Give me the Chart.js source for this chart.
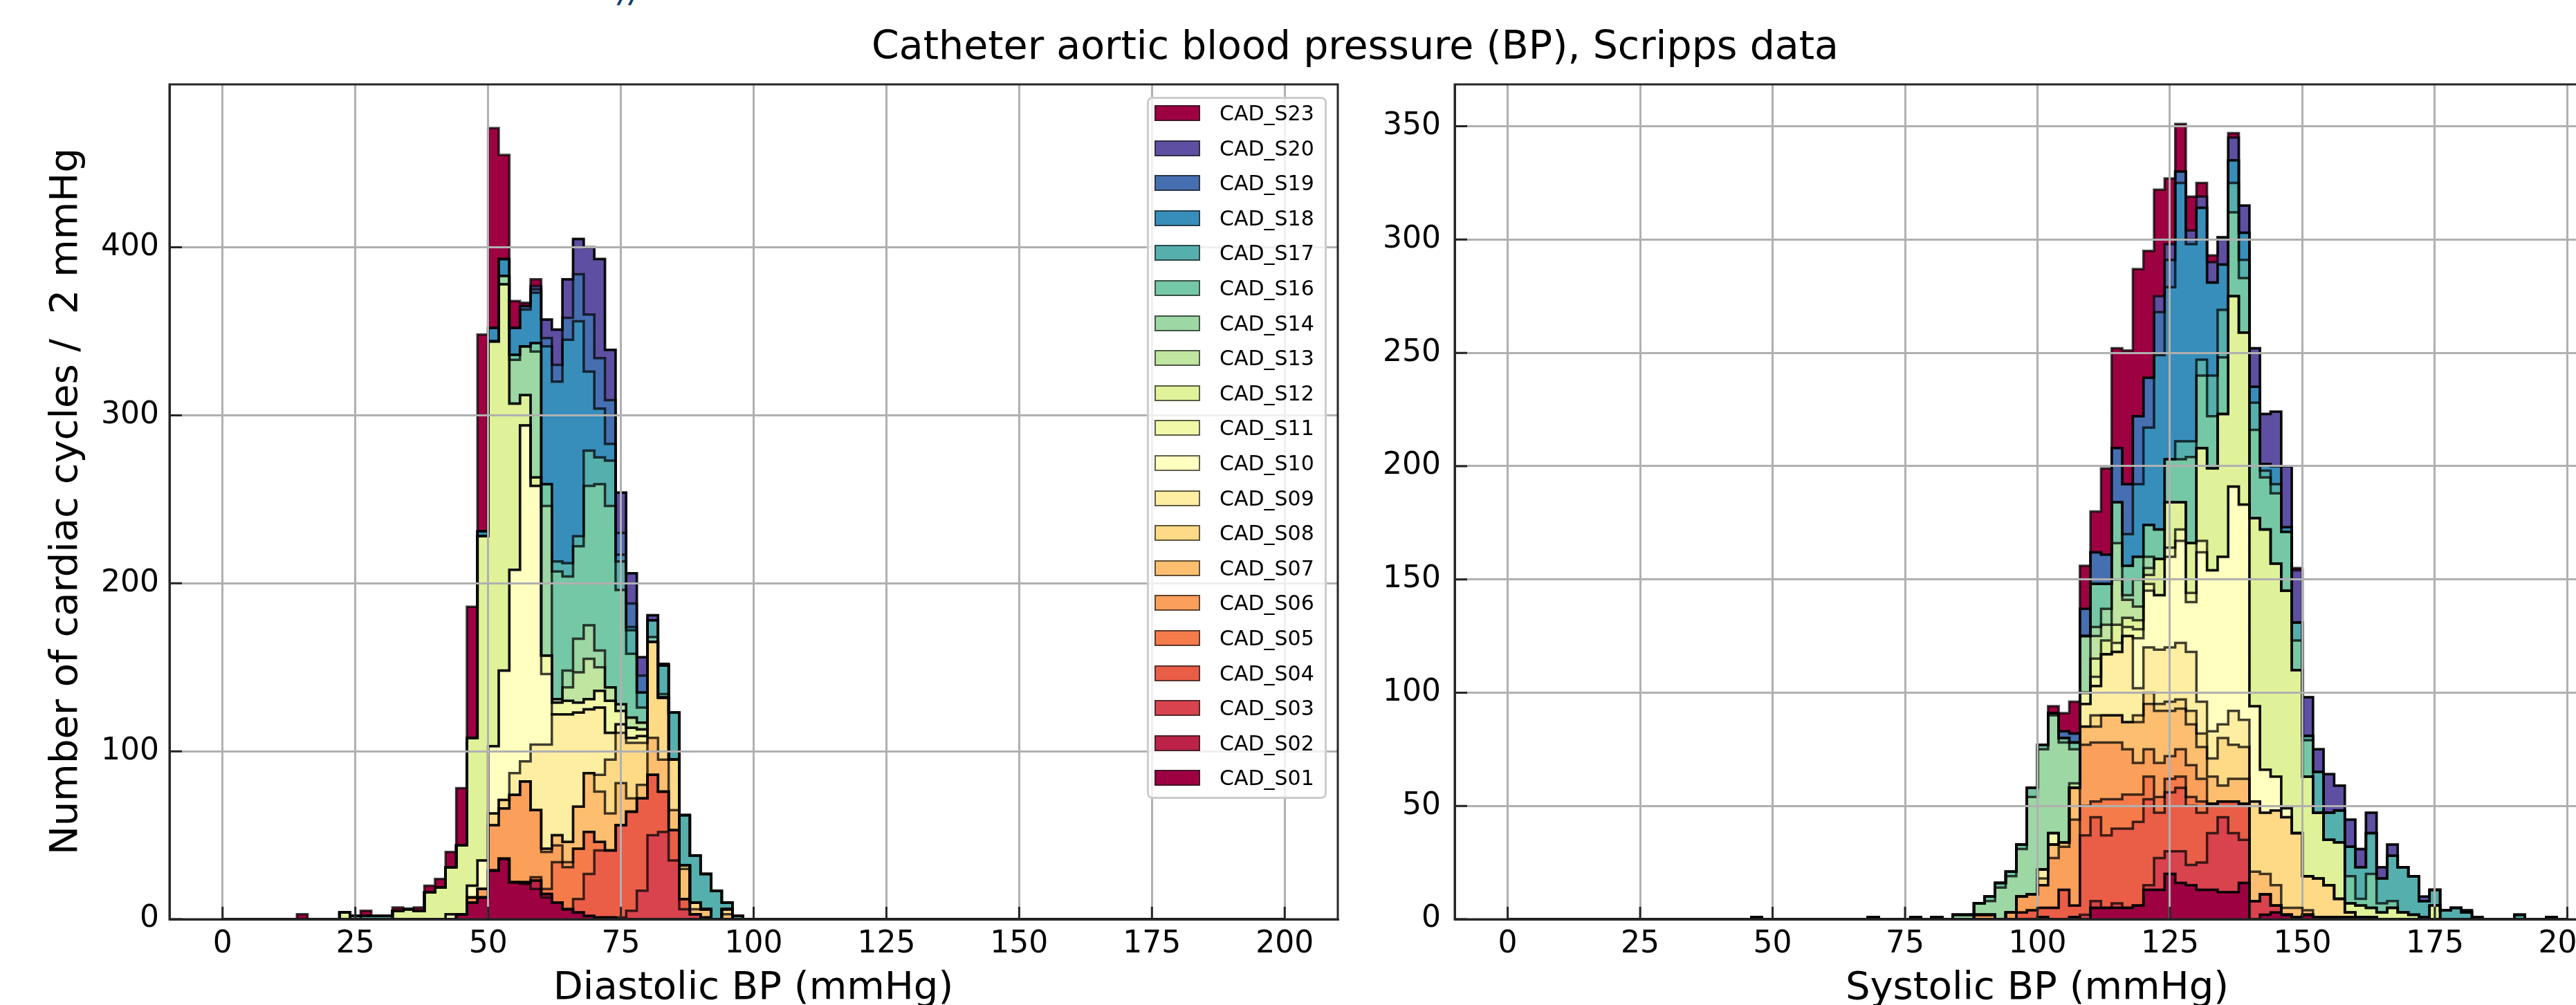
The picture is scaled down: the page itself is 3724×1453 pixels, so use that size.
<!DOCTYPE html>
<html>
<head>
<meta charset="utf-8">
<script src="https://cdn.jsdelivr.net/npm/chart.js"></script>
<style>
    html, body {
        margin: 0;
        padding: 0;
        background: #fff;
        width: 3724px;
        height: 1453px;
        overflow: hidden;
        position: relative;
        font-family: "DejaVu Sans", sans-serif;
    }
    canvas { position: absolute; top: 0; }
    #DiaChart { left: 0; }
    #SysChart { left: 1960px; }
    .txt { position: absolute; white-space: pre; line-height: 1; color: #000; }
    #legendBox {
        position: absolute; left: 1658px; top: 140px; width: 260px; height: 1015px;
        box-sizing: border-box; border: 3px solid #cccccc; border-radius: 8px;
        background: rgba(255, 255, 255, 0.8);
    }
    .lgHandle { position: absolute; left: 8px; width: 66px; height: 23px; box-sizing: border-box; border: 2px solid rgba(30, 30, 30, 0.7); }
    .lgText { position: absolute; left: 102px; font-size: 30px; line-height: 1; white-space: pre; color: #000; }
</style>
</head>
<body>

<div class="txt" style="left:895px;top:-38px;font-size:48px;color:#0d3c6e;font-style:italic">//</div>
<div class="txt" style="left:1959px;top:37px;font-size:57px;transform:translateX(-50%)">Catheter aortic blood pressure (BP), Scripps data</div>
<div class="txt" style="left:92px;top:725px;font-size:56px;transform:translate(-50%,-50%) rotate(-90deg)">Number of cardiac cycles /  2 mmHg</div>
<div class="txt" style="left:1089px;top:1397px;font-size:56px;transform:translateX(-50%)">Diastolic BP (mmHg)</div>
<div class="txt" style="left:2945px;top:1397px;font-size:56px;transform:translateX(-50%)">Systolic BP (mmHg)</div>

<canvas id="DiaChart" width="1960" height="1453"></canvas>
<canvas id="SysChart" width="1854" height="1453"></canvas>
<div id="legendBox"></div>

<script>
// subjects, bottom of the stack first
const seriesNames = ['CAD_S01', 'CAD_S02', 'CAD_S03', 'CAD_S04', 'CAD_S05', 'CAD_S06', 'CAD_S07',
    'CAD_S08', 'CAD_S09', 'CAD_S10', 'CAD_S11', 'CAD_S12', 'CAD_S13', 'CAD_S14', 'CAD_S16',
    'CAD_S17', 'CAD_S18', 'CAD_S19', 'CAD_S20', 'CAD_S23'];

const xTicks = [0, 25, 50, 75, 100, 125, 150, 175, 200];
const diaYTicks = [0, 100, 200, 300, 400];
const sysYTicks = [0, 50, 100, 150, 200, 250, 300, 350];

// diastolic counts: [bin left edge (mmHg), cycles in the 2 mmHg bin]
const diaS01 = [[44,3],[46,10],[48,13],[50,29],[52,36],[54,22],[56,21],[58,18],[60,13],[62,10],[64,6],[66,4],[68,2],[70,1],[72,1]];
const diaS02 = [[56,1],[58,5],[60,2]];
const diaS03 = [[74,1],[76,5],[78,17],[80,50],[82,52],[84,35],[86,6],[88,3]];
const diaS04 = [[66,8],[68,25],[70,40],[72,40],[74,55],[76,59],[78,55],[80,36],[82,24],[84,18],[86,6],[90,1]];
const diaS05 = [[58,2],[60,3],[62,24],[64,25],[66,30],[68,25],[70,5]];
const diaS06 = [[46,3],[48,5],[50,27],[52,30],[54,52],[56,60],[58,40],[60,22],[62,10],[64,3]];
const diaS07 = [[60,2],[62,6],[64,12],[66,25],[68,35],[70,30],[72,22],[74,25],[76,8],[78,8],[80,22],[82,19],[84,12],[86,18],[88,3],[90,5],[94,3]];
const diaS08 = [[50,7],[52,5],[70,10],[72,32],[74,30],[76,33],[78,25],[80,57],[82,37],[84,30],[86,2],[88,4],[94,3]];
const diaS09 = [[54,13],[56,12],[58,39],[60,62],[62,72],[64,76],[66,56],[68,38],[70,40],[72,16],[74,5],[76,3],[78,4]];
const diaS10 = [[42,3],[46,7],[48,17],[50,40],[52,77],[54,121],[56,200],[58,154],[60,42]];
const diaS11 = [[60,11],[62,7],[64,8],[66,6],[68,6],[70,10],[72,19],[74,8],[76,6],[78,4]];
const diaS12 = [[22,4],[32,5],[34,6],[36,5],[38,16],[40,19],[42,28],[44,41],[46,88],[48,193],[50,241],[52,230],[54,99],[56,18],[58,5]];
const diaS13 = [[62,2],[64,8],[66,18],[68,24],[70,14],[72,8],[74,4],[76,6],[78,4]];
const diaS14 = [[52,5],[54,26],[56,29],[58,75],[60,89],[64,10],[66,20],[68,20],[70,10]];
const diaS16 = [[24,2],[54,3],[58,5],[60,13],[62,76],[64,56],[66,55],[68,83],[70,99],[72,108],[74,68],[76,38],[78,9],[80,3],[82,2]];
const diaS17 = [[26,2],[28,2],[30,2],[62,6],[64,8],[66,6],[68,21],[70,16],[72,27],[74,17],[76,14],[78,9],[80,10],[82,17],[84,28],[86,30],[88,28],[90,21],[92,17],[94,4],[96,2]];
const diaS18 = [[48,3],[50,8],[52,10],[54,16],[56,22],[58,30],[60,82],[62,107],[64,133],[66,128],[68,47],[70,29],[72,10],[74,4],[76,2]];
const diaS19 = [[56,2],[58,2],[60,5],[62,10],[64,13],[66,28],[68,34],[70,30],[72,26],[74,13],[76,14],[78,10]];
const diaS20 = [[58,2],[60,11],[62,21],[64,23],[66,21],[68,40],[70,59],[72,30],[74,24],[76,18],[78,11],[80,3],[82,1]];
const diaS23 = [[14,3],[26,3],[32,2],[36,2],[38,4],[40,5],[42,9],[44,34],[46,78],[48,117],[50,119],[52,62],[54,16],[56,2],[58,4]];

// systolic counts
const sysS01 = [[68,1],[80,1],[100,1],[106,1],[110,5],[112,5],[114,5],[116,5],[118,6],[120,13],[122,13],[124,20],[126,16],[128,15],[130,13],[132,13],[134,12],[136,12],[138,16],[142,2],[144,3],[146,2],[148,1],[150,2],[152,1],[154,1],[156,1],[158,1],[160,1],[162,1]];
const sysS02 = [];
const sysS03 = [[108,2],[110,3],[114,2],[120,2],[122,14],[124,10],[126,14],[128,9],[130,12],[132,25],[134,33],[136,26],[138,19],[140,8],[142,9],[144,3]];
const sysS04 = [[96,3],[98,4],[100,4],[102,5],[104,13],[106,5],[108,35],[110,37],[112,32],[114,33],[116,35],[118,37],[120,38],[122,20],[124,26],[126,28],[128,26],[130,22],[132,13],[134,7],[136,14],[138,16]];
const sysS05 = [[108,13],[110,7],[112,16],[114,13],[116,15],[118,12],[120,10],[122,7],[124,6],[126,5],[128,4],[130,5]];
const sysS06 = [[88,2],[90,2],[94,3],[96,7],[98,7],[100,10],[102,22],[104,19],[106,38],[108,27],[110,26],[112,25],[114,25],[116,20],[118,14],[120,12],[122,15],[124,10],[126,12],[128,14],[130,10]];
const sysS07 = [[102,6],[104,2],[106,14],[108,8],[110,7],[112,12],[114,12],[116,12],[118,18],[120,20],[122,23],[124,20],[126,18],[128,18],[130,14],[132,12],[134,7],[136,10],[138,11],[140,13],[142,9],[144,9],[146,3],[148,4],[150,2]];
const sysS08 = [[100,3],[110,5],[118,3],[120,5],[122,3],[124,4],[126,4],[128,6],[130,6],[132,8],[134,21],[136,15],[138,14],[140,31],[142,27],[144,33],[146,40],[148,33],[150,15],[152,17],[154,14],[156,8],[158,2]];
const sysS09 = [[100,4],[108,10],[110,13],[112,27],[114,28],[116,38],[118,12],[120,20],[122,24],[124,24],[126,25],[128,26],[130,14],[132,12],[134,6],[136,15],[138,12]];
const sysS10 = [[118,22],[120,25],[122,24],[124,40],[126,45],[128,22],[130,66],[132,71],[134,74],[136,99],[138,95],[140,42],[142,19],[144,15],[146,4]];
const sysS11 = [[102,5],[108,5],[110,4],[114,4],[116,4],[118,4],[120,3],[124,4],[126,5],[128,4],[130,5]];
const sysS12 = [[110,8],[112,6],[114,8],[116,4],[118,4],[120,4],[122,16],[124,20],[126,12],[128,22],[130,41],[132,45],[134,63],[136,84],[138,76],[140,83],[142,106],[144,94],[146,96],[148,72],[150,44],[152,29],[154,20],[156,25],[158,4],[160,5],[162,4],[164,3],[166,5],[168,3],[170,2],[172,1],[174,6]];
const sysS13 = [[106,2],[110,10],[112,7],[114,20],[116,8],[118,6],[120,3]];
const sysS14 = [[84,2],[86,2],[88,5],[90,6],[92,14],[94,16],[96,21],[98,43],[100,53],[102,52],[104,44],[106,15],[108,25],[110,4],[112,7],[114,16],[116,2],[118,12],[120,5]];
const sysS16 = [[90,2],[92,2],[94,2],[96,2],[98,4],[100,2],[102,1],[104,2],[106,3],[110,19],[112,11],[114,18],[116,13],[118,10],[120,14],[122,13],[124,19],[126,19],[128,38],[130,32],[132,23],[134,25],[136,37],[138,24],[140,39],[142,23],[144,31],[146,26],[148,13],[150,16],[158,12],[160,3],[162,15],[164,4],[166,3]];
const sysS17 = [[46,1],[76,1],[126,8],[128,7],[130,7],[132,18],[134,21],[136,13],[138,8],[140,12],[142,3],[144,4],[148,8],[150,2],[152,18],[154,12],[156,14],[158,13],[160,14],[162,18],[164,11],[166,20],[168,20],[170,17],[172,7],[174,7],[176,4],[178,5],[180,3],[190,2],[196,1]];
const sysS18 = [[116,14],[118,32],[120,43],[122,77],[124,76],[126,114],[128,87],[130,67],[132,41],[134,20],[136,10],[138,12],[140,7],[142,3],[144,8],[146,2]];
const sysS19 = [[104,3],[106,4],[108,12],[110,14],[112,13],[114,24],[116,22],[118,30],[120,22],[122,19],[124,12],[126,5],[128,2]];
const sysS20 = [[122,7],[124,7],[128,4],[130,5],[132,9],[134,12],[136,10],[138,12],[140,17],[142,22],[144,24],[146,27],[148,23],[150,17],[152,10],[154,17],[156,11],[158,12],[160,8],[162,9],[164,5],[166,5],[172,2],[180,1],[182,1]];
const sysS23 = [[102,3],[104,8],[106,14],[108,19],[110,18],[112,38],[114,44],[116,59],[118,65],[120,56],[122,47],[124,29],[126,21],[128,15],[130,6],[132,3],[136,2],[148,1]];

const diaSeries = [diaS01, diaS02, diaS03, diaS04, diaS05, diaS06, diaS07, diaS08, diaS09, diaS10,
    diaS11, diaS12, diaS13, diaS14, diaS16, diaS17, diaS18, diaS19, diaS20, diaS23];
const sysSeries = [sysS01, sysS02, sysS03, sysS04, sysS05, sysS06, sysS07, sysS08, sysS09, sysS10,
    sysS11, sysS12, sysS13, sysS14, sysS16, sysS17, sysS18, sysS19, sysS20, sysS23];


// matplotlib "Spectral" anchors
const spectralStops = [
    [158, 1, 66], [213, 62, 79], [244, 109, 67], [253, 174, 97], [254, 224, 139], [255, 255, 191],
    [230, 245, 152], [171, 221, 164], [102, 194, 165], [50, 136, 189], [94, 79, 162]
];

function spectral(t) {
    var pos = t * 10;
    var i = Math.min(Math.floor(pos), 9);
    var f = pos - i;
    var a = spectralStops[i], b = spectralStops[i + 1];
    var c = [0, 1, 2].map(function (k) { return Math.round(a[k] + (b[k] - a[k]) * f); });
    return 'rgb(' + c.join(',') + ')';
}

// 19 colours over the map, the 20th subject wraps round to the first
const seriesColors = seriesNames.map(function (name, i) {
    return spectral((i % 19) / 18);
});

// full 0..200 mmHg histogram in 2 mmHg bins, step drawn from left edges
function toSteps(pairs) {
    var counts = new Map(pairs);
    var pts = [];
    for (var e = 0; e < 200; e += 2) {
        pts.push({ x: e, y: counts.get(e) || 0 });
    }
    pts.push({ x: 200, y: 0 });
    return pts;
}

const framePlugin = {
    id: 'frame',
    afterDraw: function (chart) {
        var ctx = chart.ctx, a = chart.chartArea;
        var x = chart.scales.x, y = chart.scales.y;
        ctx.save();
        ctx.strokeStyle = '#262626';
        ctx.lineWidth = 3;
        ctx.beginPath();
        x.ticks.forEach(function (t) {
            var px = x.getPixelForValue(t.value);
            ctx.moveTo(px, a.bottom);
            ctx.lineTo(px, a.bottom - 18);
        });
        y.ticks.forEach(function (t) {
            var py = y.getPixelForValue(t.value);
            ctx.moveTo(a.left, py);
            ctx.lineTo(a.left + 18, py);
        });
        ctx.stroke();
        ctx.strokeRect(a.left, a.top, a.right - a.left, a.bottom - a.top);
        ctx.restore();
    }
};

function makeChart(canvasId, series, yMax, yTicks, yAxisWidth, yPad) {
    var datasets = series.map(function (pairs, i) {
        return {
            label: seriesNames[i],
            data: toSteps(pairs),
            stepped: true,
            fill: i === 0 ? 'origin' : '-1',
            backgroundColor: seriesColors[i],
            borderColor: 'rgba(0, 0, 0, 0.75)',
            borderWidth: 3.5,
            pointRadius: 0,
            tension: 0
        };
    });

    return new Chart(document.getElementById(canvasId), {
        type: 'line',
        data: { datasets: datasets },
        plugins: [framePlugin],
        options: {
            responsive: false,
            animation: false,
            devicePixelRatio: 1,
            events: [],
            layout: { padding: { left: 0, top: 122, right: 26, bottom: 0 } },
            plugins: {
                legend: { display: false },
                tooltip: { enabled: false },
                filler: { drawTime: 'beforeDatasetsDraw' }
            },
            scales: {
                x: {
                    type: 'linear',
                    min: -10,
                    max: 210,
                    afterBuildTicks: function (s) { s.ticks = xTicks.map(function (v) { return { value: v }; }); },
                    afterFit: function (s) { s.height = 124; },
                    grid: { color: '#b0b0b0', lineWidth: 3, drawTicks: false, z: 1 },
                    border: { color: '#262626', width: 3, z: 2 },
                    ticks: {
                        color: '#000',
                        padding: 10,
                        maxRotation: 0,
                        autoSkip: false,
                        font: { family: 'DejaVu Sans', size: 44 }
                    }
                },
                y: {
                    type: 'linear',
                    stacked: true,
                    min: 0,
                    max: yMax,
                    afterBuildTicks: function (s) { s.ticks = yTicks.map(function (v) { return { value: v }; }); },
                    afterFit: function (s) { s.width = yAxisWidth; },
                    grid: { color: '#b0b0b0', lineWidth: 3, drawTicks: false, z: 1 },
                    border: { color: '#262626', width: 3, z: 2 },
                    ticks: {
                        color: '#000',
                        padding: yPad,
                        font: { family: 'DejaVu Sans', size: 44 }
                    }
                }
            }
        }
    });
}

var DiaChart = makeChart('DiaChart', diaSeries, 497, diaYTicks, 245, 15);
var SysChart = makeChart('SysChart', sysSeries, 368.5, sysYTicks, 143, 20);

// legend inside the diastolic panel, top of the stack listed first
function buildLegend() {
    var box = document.getElementById('legendBox');
    for (var i = seriesNames.length - 1, row = 0; i >= 0; i--, row++) {
        var cy = 20.5 + row * 50.6;
        var h = document.createElement('div');
        h.className = 'lgHandle';
        h.style.top = (cy - 11.5) + 'px';
        h.style.background = seriesColors[i];
        box.appendChild(h);
        var t = document.createElement('div');
        t.className = 'lgText';
        t.style.top = (cy - 14.5) + 'px';
        t.textContent = seriesNames[i];
        box.appendChild(t);
    }
}
buildLegend();
</script>
</body>
</html>
